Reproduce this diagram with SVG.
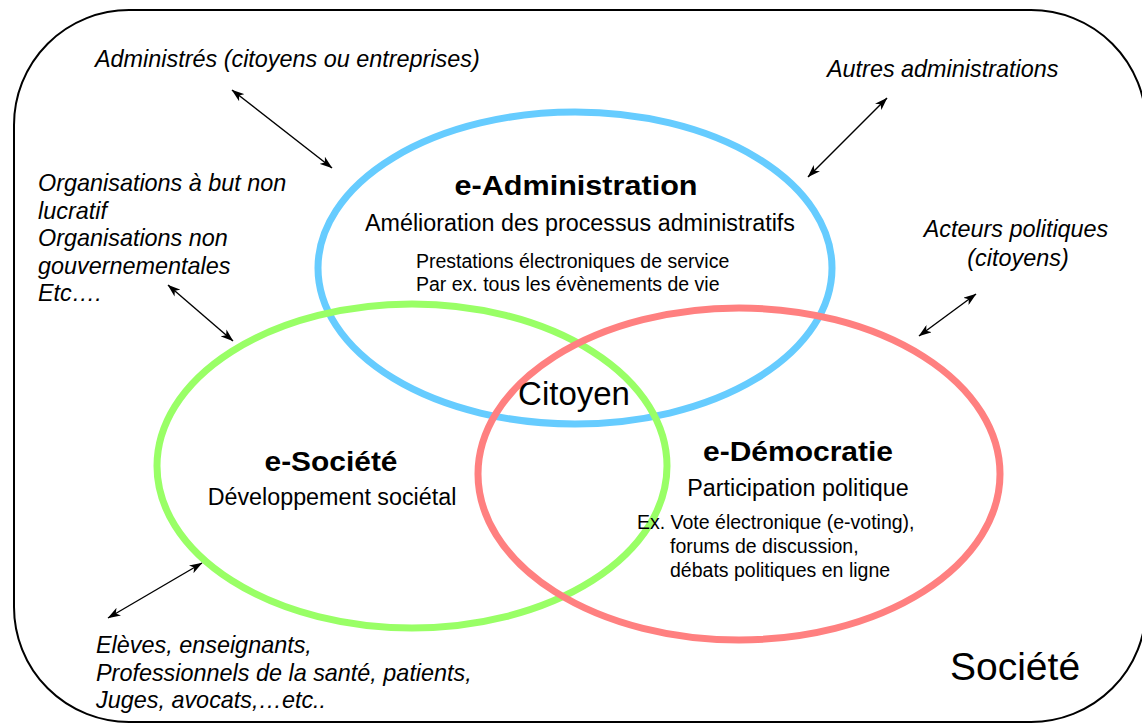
<svg xmlns="http://www.w3.org/2000/svg" width="1142" height="725" viewBox="0 0 1142 725">
<defs>
<style>
text{font-family:"Liberation Sans",Arial,sans-serif;fill:#000}
.it{font-style:italic;font-size:23.4px}
.reg{font-size:23.3px}
.sm{font-size:19.5px}
.bold{font-weight:bold;font-size:27px}
.ring{fill:none;stroke-width:7}
.arr{stroke:#000;stroke-width:1.4;fill:none;marker-start:url(#ah);marker-end:url(#ah)}
</style>
<marker id="ah" viewBox="0 0 13 9" markerWidth="13" markerHeight="9" refX="12.5" refY="4.5" orient="auto-start-reverse" markerUnits="userSpaceOnUse">
<path d="M0,0 L13,4.5 L0,9 L3.5,4.5 z" fill="#000"/>
</marker>
</defs>
<rect id="societe-frame" x="14" y="10" width="1132" height="712" rx="115" ry="115" fill="#fff" stroke="#000" stroke-width="2"/>
<g id="e-administration">
<ellipse class="ring" cx="575" cy="268" rx="257" ry="156" stroke="#66CCFF"/>
</g>
<g id="e-societe">
<ellipse class="ring" cx="412" cy="466" rx="255" ry="162" stroke="#99FF66"/>
</g>
<g id="e-democratie">
<ellipse class="ring" cx="739" cy="474" rx="261" ry="166" stroke="#FF8080"/>
</g>
<g id="labels-admin">
<text class="bold" x="576" y="195" text-anchor="middle" textLength="243" lengthAdjust="spacingAndGlyphs">e-Administration</text>
<text class="reg" x="580" y="231" text-anchor="middle">Amélioration des processus administratifs</text>
<text class="sm" x="416" y="268">Prestations électroniques de service</text>
<text class="sm" x="416" y="291">Par ex. tous les évènements de vie</text>
</g>
<g id="citoyen"><text x="574" y="405" text-anchor="middle" font-size="33">Citoyen</text></g>
<g id="labels-societe">
<text class="bold" x="331" y="471" text-anchor="middle" textLength="133" lengthAdjust="spacingAndGlyphs">e-Société</text>
<text class="reg" x="332" y="505" text-anchor="middle">Développement sociétal</text>
</g>
<g id="labels-democratie">
<text class="bold" x="798" y="461" text-anchor="middle" textLength="190" lengthAdjust="spacingAndGlyphs">e-Démocratie</text>
<text class="reg" x="798" y="496" text-anchor="middle">Participation politique</text>
<text class="sm" x="637" y="529">Ex. Vote électronique (e-voting),</text>
<text class="sm" x="670" y="553">forums de discussion,</text>
<text class="sm" x="670" y="577">débats politiques en ligne</text>
</g>
<g id="actors">
<text class="it" x="95" y="67">Administrés (citoyens ou entreprises)</text>
<text class="it" x="827" y="77">Autres administrations</text>
<text class="it" x="38" y="191">Organisations à but non</text>
<text class="it" x="38" y="218.5">lucratif</text>
<text class="it" x="38" y="246">Organisations non</text>
<text class="it" x="38" y="273.5">gouvernementales</text>
<text class="it" x="38" y="301">Etc….</text>
<text class="it" x="1016" y="237" text-anchor="middle">Acteurs politiques</text>
<text class="it" x="1018" y="266" text-anchor="middle">(citoyens)</text>
<text class="it" x="96" y="653">Elèves, enseignants,</text>
<text class="it" x="96" y="681">Professionnels de la santé, patients,</text>
<text class="it" x="96" y="708">Juges, avocats,…etc..</text>
<text x="950" y="680" font-size="39">Société</text>
</g>
<g id="connectors">
<line class="arr" x1="232" y1="90" x2="332" y2="168"/>
<line class="arr" x1="808" y1="177" x2="887" y2="98"/>
<line class="arr" x1="168" y1="285" x2="233" y2="341"/>
<line class="arr" x1="108" y1="618" x2="202" y2="563"/>
<line class="arr" x1="919" y1="336" x2="976" y2="294"/>
</g>
</svg>
